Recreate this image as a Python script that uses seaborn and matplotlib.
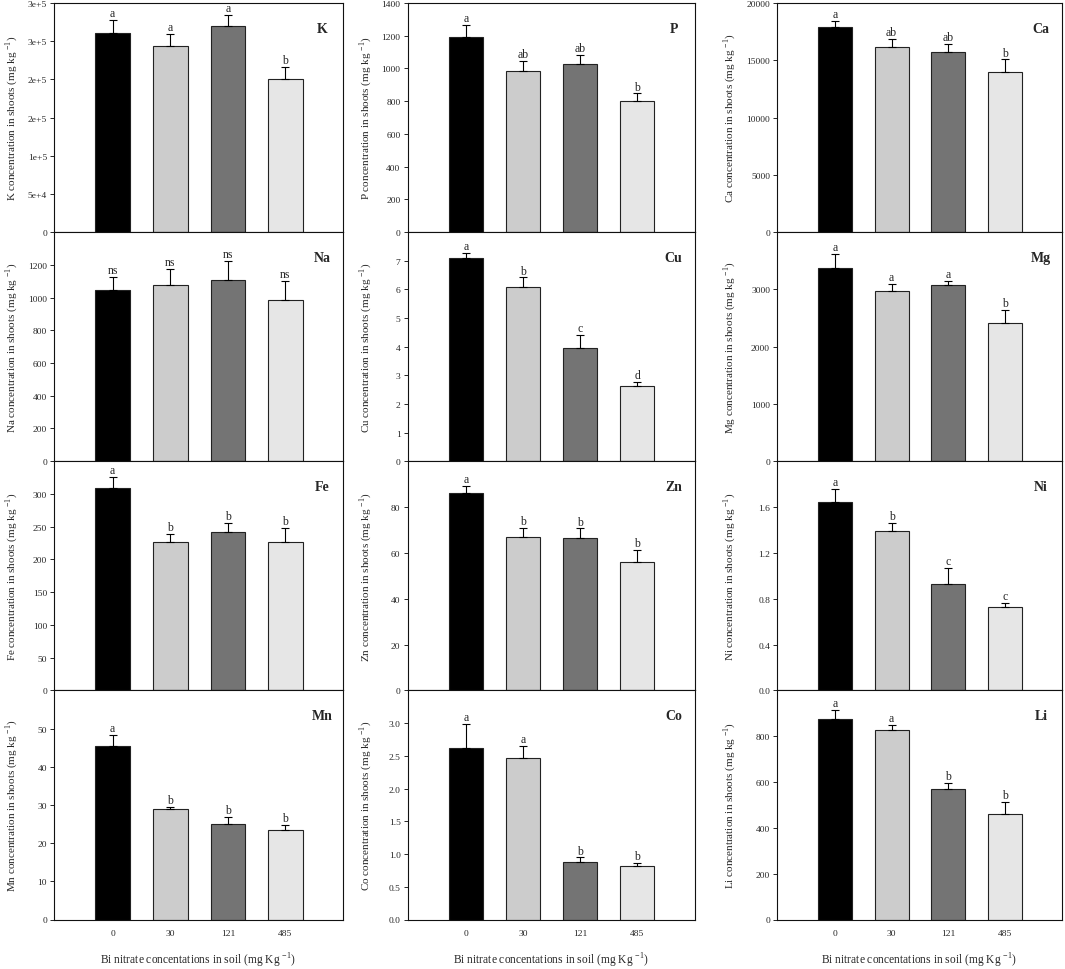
import numpy as np
import pandas as pd
import matplotlib
matplotlib.use("Agg")
import matplotlib.pyplot as plt
import seaborn as sns

# ---------------- data ----------------
doses = ["0", "30", "121", "485"]
bar_colors = ["#000000", "#cccccc", "#747474", "#e6e6e6"]

elements = ["K", "P", "Ca", "Na", "Cu", "Mg", "Fe", "Zn", "Ni", "Mn", "Co", "Li"]

K_mean = [261000, 243700, 270300, 200000]
K_err = [16700, 15300, 14000, 15800]
K_let = ["a", "a", "a", "b"]

P_mean = [1191, 986, 1029, 802]
P_err = [74, 58, 54, 45]
P_let = ["a", "ab", "ab", "b"]

Ca_mean = [17900, 16185, 15713, 13998]
Ca_err = [560, 700, 735, 1076]
Ca_let = ["a", "ab", "ab", "b"]

Na_mean = [1049, 1078, 1110, 986]
Na_err = [79, 95, 115, 114]
Na_let = ["ns", "ns", "ns", "ns"]

Cu_mean = [7.08, 6.08, 3.97, 2.61]
Cu_err = [0.19, 0.34, 0.43, 0.16]
Cu_let = ["a", "b", "c", "d"]

Mg_mean = [3373, 2967, 3077, 2415]
Mg_err = [239, 127, 64, 221]
Mg_let = ["a", "a", "a", "b"]

Fe_mean = [308.6, 227.0, 241.4, 227.0]
Fe_err = [17.8, 11.8, 14.3, 21.5]
Fe_let = ["a", "b", "b", "b"]

Zn_mean = [86.3, 67.0, 66.6, 56.1]
Zn_err = [2.9, 3.8, 4.1, 5.2]
Zn_let = ["a", "b", "b", "b"]

Ni_mean = [1.646, 1.394, 0.929, 0.726]
Ni_err = [0.116, 0.067, 0.141, 0.041]
Ni_let = ["a", "b", "c", "c"]

Mn_mean = [45.4, 29.0, 25.0, 23.4]
Mn_err = [2.9, 0.5, 1.8, 1.3]
Mn_let = ["a", "b", "b", "b"]

Co_mean = [2.62, 2.462, 0.872, 0.821]
Co_err = [0.365, 0.188, 0.076, 0.041]
Co_let = ["a", "a", "b", "b"]

Li_mean = [877, 828, 570.5, 462]
Li_err = [36, 20, 26.5, 50.6]
Li_let = ["a", "a", "b", "b"]

# y-axis ticks / labels / upper limits
K_ticks = [0, 50000, 100000, 150000, 200000, 250000, 300000]
K_tlab = ["0", "5e+4", "1e+5", "2e+5", "2e+5", "3e+5", "3e+5"]
K_top = 300000
P_ticks = [0, 200, 400, 600, 800, 1000, 1200, 1400]
P_tlab = ["0", "200", "400", "600", "800", "1000", "1200", "1400"]
P_top = 1400
Ca_ticks = [0, 5000, 10000, 15000, 20000]
Ca_tlab = ["0", "5000", "10000", "15000", "20000"]
Ca_top = 20000
Na_ticks = [0, 200, 400, 600, 800, 1000, 1200]
Na_tlab = ["0", "200", "400", "600", "800", "1000", "1200"]
Na_top = 1400
Cu_ticks = [0, 1, 2, 3, 4, 5, 6, 7]
Cu_tlab = ["0", "1", "2", "3", "4", "5", "6", "7"]
Cu_top = 8
Mg_ticks = [0, 1000, 2000, 3000]
Mg_tlab = ["0", "1000", "2000", "3000"]
Mg_top = 4000
Fe_ticks = [0, 50, 100, 150, 200, 250, 300]
Fe_tlab = ["0", "50", "100", "150", "200", "250", "300"]
Fe_top = 350
Zn_ticks = [0, 20, 40, 60, 80]
Zn_tlab = ["0", "20", "40", "60", "80"]
Zn_top = 100
Ni_ticks = [0.0, 0.4, 0.8, 1.2, 1.6]
Ni_tlab = ["0.0", "0.4", "0.8", "1.2", "1.6"]
Ni_top = 2.0
Mn_ticks = [0, 10, 20, 30, 40, 50]
Mn_tlab = ["0", "10", "20", "30", "40", "50"]
Mn_top = 60
Co_ticks = [0.0, 0.5, 1.0, 1.5, 2.0, 2.5, 3.0]
Co_tlab = ["0.0", "0.5", "1.0", "1.5", "2.0", "2.5", "3.0"]
Co_top = 3.5
Li_ticks = [0, 200, 400, 600, 800]
Li_tlab = ["0", "200", "400", "600", "800"]
Li_top = 1000

xlabel_text = "Bi nitrate concentations in soil (mg Kg $^{-1}$)"

panels = {
    "K": (K_mean, K_err, K_let, K_ticks, K_tlab, K_top),
    "P": (P_mean, P_err, P_let, P_ticks, P_tlab, P_top),
    "Ca": (Ca_mean, Ca_err, Ca_let, Ca_ticks, Ca_tlab, Ca_top),
    "Na": (Na_mean, Na_err, Na_let, Na_ticks, Na_tlab, Na_top),
    "Cu": (Cu_mean, Cu_err, Cu_let, Cu_ticks, Cu_tlab, Cu_top),
    "Mg": (Mg_mean, Mg_err, Mg_let, Mg_ticks, Mg_tlab, Mg_top),
    "Fe": (Fe_mean, Fe_err, Fe_let, Fe_ticks, Fe_tlab, Fe_top),
    "Zn": (Zn_mean, Zn_err, Zn_let, Zn_ticks, Zn_tlab, Zn_top),
    "Ni": (Ni_mean, Ni_err, Ni_let, Ni_ticks, Ni_tlab, Ni_top),
    "Mn": (Mn_mean, Mn_err, Mn_let, Mn_ticks, Mn_tlab, Mn_top),
    "Co": (Co_mean, Co_err, Co_let, Co_ticks, Co_tlab, Co_top),
    "Li": (Li_mean, Li_err, Li_let, Li_ticks, Li_tlab, Li_top),
}

# ---------------- style ----------------
sns.set_style("ticks")
plt.rcParams["font.family"] = ["Liberation Serif", "DejaVu Serif"]
plt.rcParams["mathtext.fontset"] = "custom"
plt.rcParams["mathtext.rm"] = "Liberation Serif"
plt.rcParams["axes.edgecolor"] = "#111111"
plt.rcParams["axes.linewidth"] = 0.8

W, H = 1065, 970
fig = plt.figure(figsize=(W / 100, H / 100), dpi=100)

col_left = [54, 407.5, 777]
col_width = [289, 287, 285]
row_top = [4, 233.1, 462.3, 691.4]
row_h = 229.1
label_off = [42, 42, 47]

for i, el in enumerate(elements):
    r, c = divmod(i, 3)
    x0 = col_left[c] / W
    y0 = (H - row_top[r] - row_h) / H
    ax = fig.add_axes([x0, y0, col_width[c] / W, row_h / H])

    mean, err, lets, ticks, tlab, top = panels[el]
    df = pd.DataFrame({"dose": doses, "value": mean})
    sns.barplot(data=df, x="dose", y="value", hue="dose", order=doses,
                hue_order=doses, palette=bar_colors, width=0.6,
                edgecolor="#222222", linewidth=0.8, errorbar=None,
                legend=False, ax=ax, zorder=2)
    ax.errorbar(np.arange(4), mean, yerr=[np.zeros(4), err], fmt="none",
                ecolor="black", elinewidth=0.8, capsize=2.6, capthick=0.8,
                zorder=3)
    for j in range(4):
        ax.annotate(lets[j], (j, mean[j] + err[j]), xytext=(0, 0.6),
                    textcoords="offset points", ha="center", va="bottom",
                    fontsize=8.5)

    ax.set_xlim(-1.02, 4.0)
    ax.set_ylim(0, top)
    ax.set_yticks(ticks)
    ax.set_yticklabels(tlab)
    ax.tick_params(axis="y", direction="out", length=3, width=0.7,
                   labelsize=6.8, pad=2)
    ax.tick_params(axis="x", length=0, labelsize=6.8, pad=7)
    for s in ax.spines.values():
        s.set_visible(True)
        s.set_linewidth(0.8)

    ax.set_ylabel(f"{el} concentration in shoots (mg kg $^{{-1}}$)",
                  fontsize=8, va="center")
    ax.yaxis.set_label_coords(-label_off[c] / col_width[c], 0.5)

    ax.text(1 - 21 / col_width[c], 1 - 25 / row_h, el, transform=ax.transAxes,
            ha="center", va="center", fontsize=10, fontweight="bold")

    if r == 3:
        ax.set_xticks(range(4))
        ax.set_xticklabels(doses)
        ax.set_xlabel(xlabel_text, fontsize=8.3, va="center")
        ax.xaxis.set_label_coords(0.5, -40 / row_h)
    else:
        ax.set_xticks(range(4))
        ax.set_xticklabels([])
        ax.set_xlabel("")

fig.savefig("out.png", dpi=100)
